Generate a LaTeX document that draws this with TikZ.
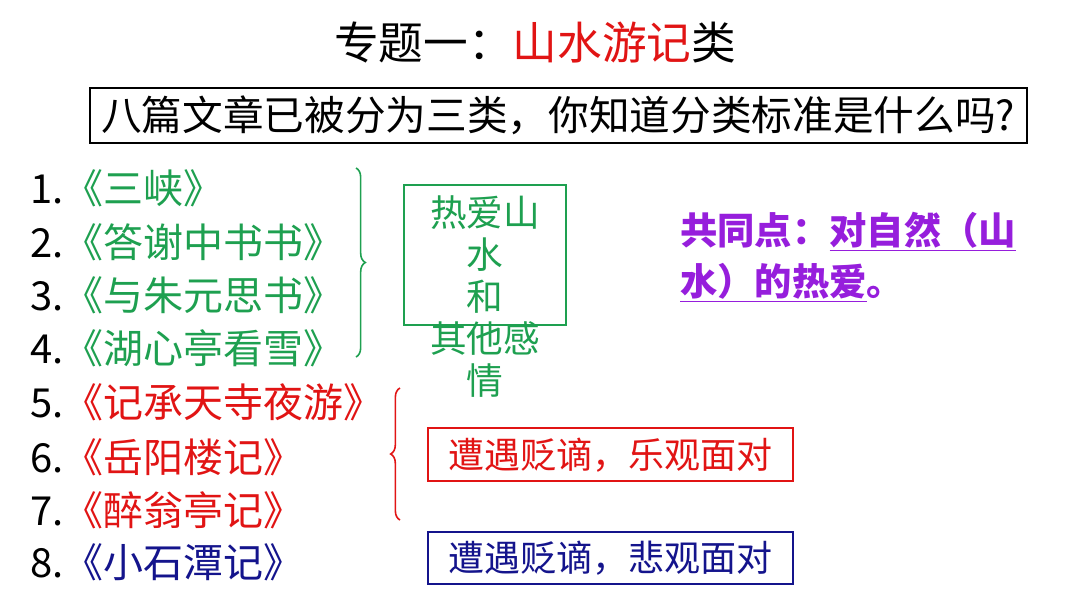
\documentclass[tikz,border=0pt]{standalone}
\usepackage{fontspec}
\setmainfont{Noto Sans CJK SC}
\usetikzlibrary{decorations.pathreplacing}
\definecolor{gr}{RGB}{30,160,80}
\definecolor{rd}{RGB}{225,20,20}
\definecolor{bl}{RGB}{20,20,140}
\definecolor{pu}{RGB}{150,30,220}
\tikzset{item/.style={anchor=west,font=\fontsize{30}{34}\selectfont,inner sep=0},
 box/.style={draw,line width=1pt,inner sep=0}}
\begin{document}
\begin{tikzpicture}[x=0.75pt,y=-0.75pt]
\useasboundingbox (0,0) rectangle (1080,608);
\node[font=\fontsize{33.5}{36}\selectfont] (t) at (535,42) {专题一：\textcolor{rd}{山水游记}类};
\draw[line width=1pt] (90,88) rectangle (1027,143);
\node[font=\fontsize{30.5}{34}\selectfont] (q) at (558,115) {八篇文章已被分为三类，你知道分类标准是什么吗?};
\node[item] (i1) at (30,188) {1.\textcolor{gr}{《三峡》}};
\node[item] (i2) at (30,242) {2.\textcolor{gr}{《答谢中书书》}};
\node[item] (i3) at (30,295) {3.\textcolor{gr}{《与朱元思书》}};
\node[item] (i4) at (30,348) {4.\textcolor{gr}{《湖心亭看雪》}};
\node[item] (i5) at (30,402) {5.\textcolor{rd}{《记承天寺夜游》}};
\node[item] (i6) at (30,457) {6.\textcolor{rd}{《岳阳楼记》}};
\node[item] (i7) at (30,510) {7.\textcolor{rd}{《醉翁亭记》}};
\node[item] (i8) at (30,562) {8.\textcolor{bl}{《小石潭记》}};
\draw[gr,line width=1.2pt,decorate,decoration={brace,amplitude=7pt}] (356,168) -- (356,357);
\draw[rd,line width=1.2pt,decorate,decoration={brace,amplitude=7pt}] (400,520) -- (400,388);
\draw[gr,line width=1pt] (404,185) rectangle (566,325);
\node[gr,align=center,font=\fontsize{27.5}{31.5}\selectfont] (g) at (485,297) {热爱山\\水\\和\\其他感\\情};
\draw[rd,line width=1pt] (428,428) rectangle (793,481);
\node[rd,font=\fontsize{27}{30}\selectfont] (r) at (610,455) {遭遇贬谪，乐观面对};
\draw[bl,line width=1pt] (428,532) rectangle (793,584);
\node[bl,font=\fontsize{27}{30}\selectfont] (b) at (610,558) {遭遇贬谪，悲观面对};
\node[pu,anchor=west,inner sep=0,font=\bfseries\fontsize{28}{32}\selectfont] (p1) at (680,232) {共同点：\underline{对自然（山}};
\node[pu,anchor=west,inner sep=0,font=\bfseries\fontsize{28}{32}\selectfont] (p2) at (680,283) {\underline{水）的热爱}。};
\end{tikzpicture}
\end{document}
